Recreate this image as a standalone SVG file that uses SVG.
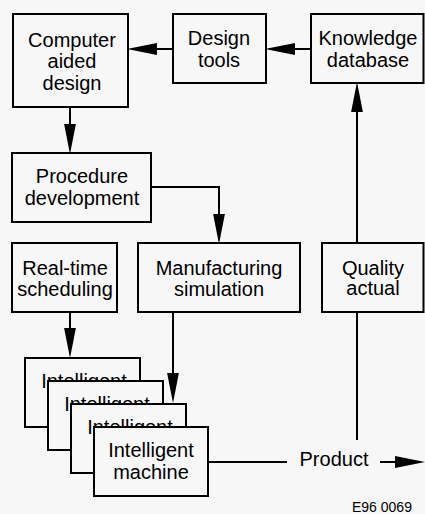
<svg xmlns="http://www.w3.org/2000/svg" width="425" height="514" viewBox="0 0 425 514">
  <style>
    .box { fill: #f7f7f7; stroke: #000; stroke-width: 2; }
    .lbl { font-family: "Liberation Sans", Arial, Helvetica, sans-serif; font-size: 20px; fill: #000; text-anchor: middle; }
    .wire { fill: none; stroke: #000; stroke-width: 2; }
    .code { font-family: "Liberation Sans", Arial, sans-serif; font-size: 14px; fill: #000; }
  </style>
  <defs>
    <marker id="head" markerUnits="userSpaceOnUse" markerWidth="30" markerHeight="12" viewBox="0 0 28 11" refX="13" refY="5.5" orient="auto">
      <path d="M0,0 L28,5.5 L0,11 Z" fill="#000"/>
    </marker>
  </defs>

  <rect width="425" height="514" fill="#f7f7f7"/>

  <!-- connectors -->
  <g id="connectors">
    <path class="wire" d="M173,49 H143" marker-end="url(#head)"/>
    <path class="wire" d="M311,49 H281" marker-end="url(#head)"/>
    <path class="wire" d="M70,107 V138" marker-end="url(#head)"/>
    <path class="wire" d="M151,187 H219 V228" marker-end="url(#head)"/>
    <path class="wire" d="M357,243 V98" marker-end="url(#head)"/>
    <path class="wire" d="M70,312 V342" marker-end="url(#head)"/>
    <path class="wire" d="M173,312 V387" marker-end="url(#head)"/>
    <path class="wire" d="M357,312 V440"/>
    <path class="wire" d="M208,462 H287"/>
    <path class="wire" d="M380,462 H409" marker-end="url(#head)"/>
  </g>

  <g id="cad">
    <rect class="box" x="13" y="14" width="115" height="93"/>
    <text class="lbl" x="72" y="47">Computer</text>
    <text class="lbl" x="72" y="68">aided</text>
    <text class="lbl" x="72" y="90">design</text>
  </g>

  <g id="design-tools">
    <rect class="box" x="173" y="14" width="93" height="69"/>
    <text class="lbl" x="219" y="45">Design</text>
    <text class="lbl" x="219" y="67">tools</text>
  </g>

  <g id="knowledge-db">
    <rect class="box" x="311" y="14" width="112.5" height="69"/>
    <text class="lbl" x="368" y="45">Knowledge</text>
    <text class="lbl" x="368" y="67">database</text>
  </g>

  <g id="procedure">
    <rect class="box" x="12" y="153" width="139" height="69"/>
    <text class="lbl" x="82" y="183">Procedure</text>
    <text class="lbl" x="82" y="205">development</text>
  </g>

  <g id="scheduling">
    <rect class="box" x="12" y="243" width="105" height="69"/>
    <text class="lbl" x="65" y="275">Real-time</text>
    <text class="lbl" x="65" y="296">scheduling</text>
  </g>

  <g id="simulation">
    <rect class="box" x="138" y="243" width="162" height="69"/>
    <text class="lbl" x="219" y="275">Manufacturing</text>
    <text class="lbl" x="219" y="296">simulation</text>
  </g>

  <g id="quality">
    <rect class="box" x="322" y="243" width="101.5" height="69"/>
    <text class="lbl" x="373" y="275">Quality</text>
    <text class="lbl" x="373" y="295">actual</text>
  </g>

  <!-- stacked machines, back to front; each card hides most of the one behind -->
  <g id="machine-1">
    <rect class="box" x="25" y="358" width="115" height="69"/>
    <text class="lbl" x="84" y="388">Intelligent</text>
  </g>
  <g id="machine-2">
    <rect class="box" x="48" y="381" width="115" height="69"/>
    <text class="lbl" x="107" y="411">Intelligent</text>
  </g>
  <g id="machine-3">
    <rect class="box" x="71" y="404" width="115" height="69"/>
    <text class="lbl" x="130" y="434">Intelligent</text>
  </g>
  <g id="machine-4">
    <rect class="box" x="94" y="427" width="114" height="69"/>
    <text class="lbl" x="151" y="457">Intelligent</text>
    <text class="lbl" x="151" y="479">machine</text>
  </g>

  <g id="product">
    <text class="lbl" x="334" y="466">Product</text>
  </g>

  <text class="code" x="352" y="512">E96 0069</text>
</svg>
